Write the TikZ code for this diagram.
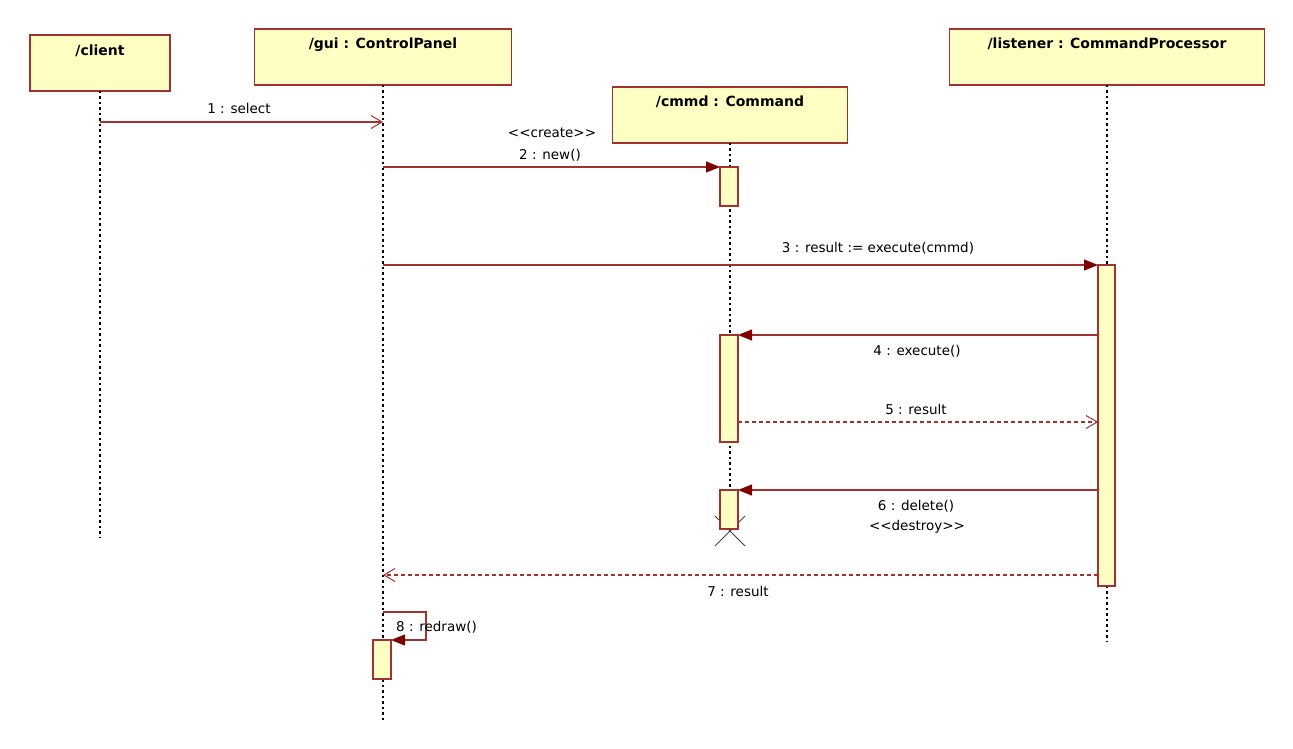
\documentclass[tikz,border=0pt]{standalone}
\usepackage{fontspec}
\setmainfont{DejaVu Sans}
\usetikzlibrary{arrows.meta}
\definecolor{lnred}{HTML}{A53030}
\definecolor{boxfill}{HTML}{FFFFC4}
\definecolor{tipred}{HTML}{800000}
\tikzset{
  head/.style={draw=lnred, fill=boxfill, line width=1.6pt, rectangle, inner sep=0pt, outer sep=0pt, anchor=north},
  title/.style={font=\fontsize{14}{16}\selectfont\bfseries, anchor=base, inner sep=0pt},
  act/.style={draw=lnred, fill=boxfill, line width=1.3pt, rectangle, inner sep=0pt, outer sep=0pt, minimum width=18pt, anchor=north},
  life/.style={draw=black, line width=1.3pt, dash pattern=on 2.5pt off 3pt},
  msg/.style={draw=lnred, line width=1.2pt},
  sync/.style={msg, -{Triangle[length=14pt,width=11pt,color=tipred,fill=tipred]}},
  reply/.style={msg, -{Straight Barb[length=11pt,width=13pt,line width=1pt]}},
  dashedreply/.style={reply, dash pattern=on 4pt off 3pt},
  lbl/.style={font=\fontsize{13.5}{15}\selectfont, inner sep=0pt}
}
\begin{document}
\begin{tikzpicture}[x=1pt,y=-1pt]
\useasboundingbox (0,0) rectangle (1293,749);

% heads
\node[head, minimum width=140pt, minimum height=56pt] (client) at (100,35) {};
\node[head, minimum width=257pt, minimum height=56pt] (gui) at (383,29) {};
\node[head, minimum width=235pt, minimum height=56pt] (cmmd) at (730,87) {};
\node[head, minimum width=315pt, minimum height=56pt] (listener) at (1107,29) {};

\node[title] (tclient) at ([yshift=-21pt]client.north) {/client};
\node[title] (tgui) at ([yshift=-20pt]gui.north) {/gui : ControlPanel};
\node[title] (tcmmd) at ([yshift=-20pt]cmmd.north) {/cmmd : Command};
\node[title] (tlistener) at ([yshift=-20pt]listener.north) {/listener : CommandProcessor};

% lifeline ends
\coordinate (clientend) at (100,537);
\coordinate (guiend) at (383,720);
\coordinate (cmmdend) at (730,530);
\coordinate (listenerend) at (1107,641);

\draw[life] (client.south) -- (clientend);
\draw[life] (gui.south) -- (guiend);
\draw[life] (cmmd.south) -- (cmmdend);
\draw[life] (listener.south) -- (listenerend);

% destruction mark
\coordinate (xa) at (715,516);
\coordinate (xb) at (745,546);
\coordinate (xc) at (745,516);
\coordinate (xd) at (715,546);
\draw[line width=1pt, black!75] (xa) -- (xb) (xc) -- (xd);

% activations
\node[act, minimum height=39pt] (a1) at (729,167) {};
\node[act, minimum height=321pt, minimum width=17pt] (a3) at (1106.5,265) {};
\node[act, minimum height=107pt] (a4) at (729,335) {};
\node[act, minimum height=39pt] (a5) at (729,490) {};
\node[act, minimum height=39pt] (a6) at (382,640) {};

% messages
\draw[reply] (client.south |- 0,122) -- (gui.south |- 0,122);
\node[lbl] (l1) at (239,108) {1 : select};

\draw[sync] (gui.south |- a1.north) -- (a1.north west);
\node[lbl] (l2a) at (552,133) {<\kern0pt<create>\kern0pt>};
\node[lbl] (l2b) at (550,155) {2 : new()};

\draw[sync] (gui.south |- a3.north) -- (a3.north west);
\node[lbl] (l3) at (878,248) {3 : result := execute(cmmd)};

\draw[sync] (a3.west |- a4.north) -- (a4.north east);
\node[lbl] (l4) at (917,351) {4 : execute()};

\draw[dashedreply] (a4.east |- 0,422) -- (a3.west |- 0,422);
\node[lbl] (l5) at (916,409) {5 : result};

\draw[sync] (a3.west |- a5.north) -- (a5.north east);
\node[lbl] (l6a) at (916,506) {6 : delete()};
\node[lbl] (l6b) at (917,527) {<\kern0pt<destroy>\kern0pt>};

\draw[dashedreply] (a3.west |- 0,575) -- (gui.south |- 0,575);
\node[lbl] (l7) at (738,591) {7 : result};

\coordinate (s8a) at (426,612);
\coordinate (s8b) at (426,640);
\draw[sync] (gui.south |- s8a) -- (s8a) -- (s8b) -- (a6.north east);
\node[lbl, anchor=west] (l8) at (396,627) {8 : redraw()};

\end{tikzpicture}
\end{document}
